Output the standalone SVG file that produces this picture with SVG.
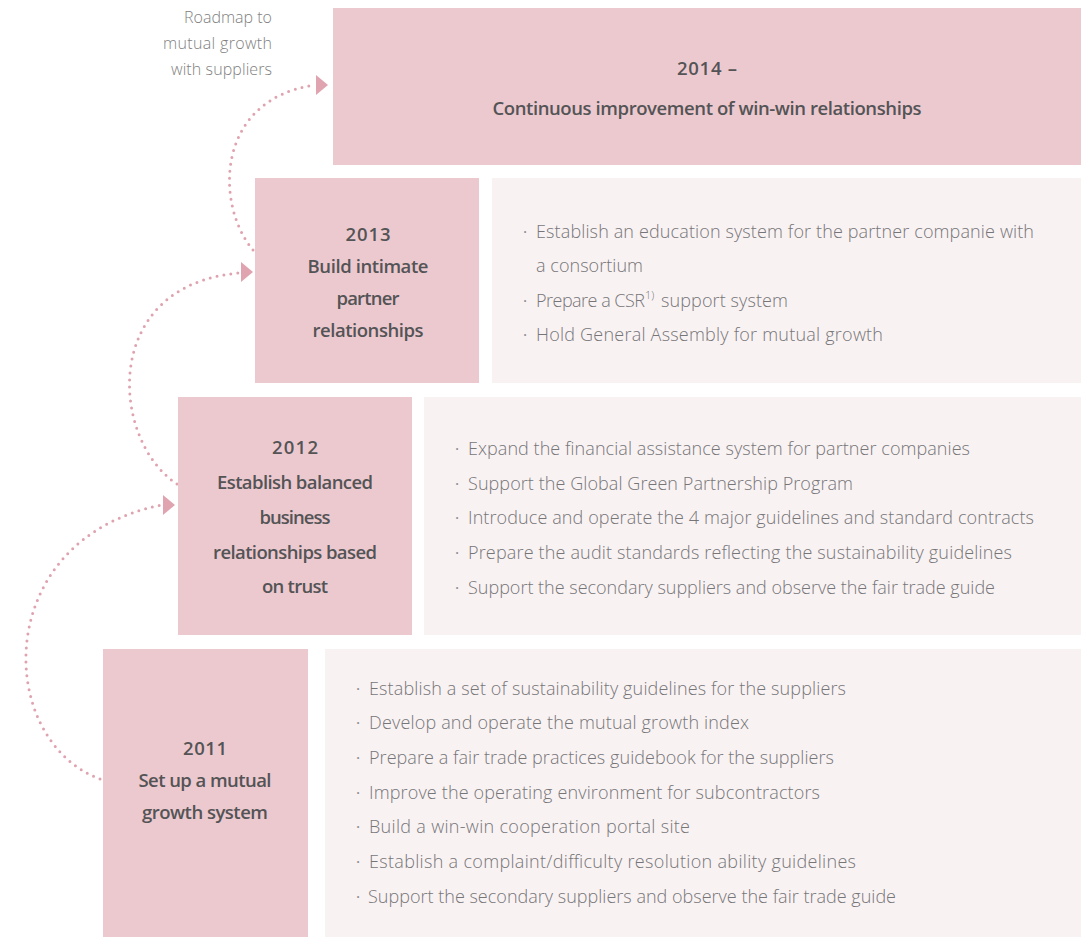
<svg xmlns="http://www.w3.org/2000/svg" width="1090" height="937" viewBox="0 0 1090 937">
  <style>
    .head { fill: #ecc9cf; }
    .body { fill: #f9f2f3; }
    .title { font-family: "Open Sans", "Liberation Sans", sans-serif; font-size: 18.5px; font-weight: 600; fill: #545456; text-anchor: middle; }
    .item { font-family: "Open Sans", "Liberation Sans", sans-serif; font-size: 18px; font-weight: 300; fill: #767678; }
    .dot { font-family: "Open Sans", "Liberation Sans", sans-serif; font-size: 16px; fill: #8a8a8c; }
    .note { font-family: "Open Sans", "Liberation Sans", sans-serif; font-size: 16px; font-weight: 300; fill: #7f7f81; text-anchor: end; }
    .sup { font-family: "Open Sans", "Liberation Sans", sans-serif; font-size: 11px; font-weight: 300; fill: #767678; }
    .trail { fill: none; stroke: #dfa3af; stroke-width: 3; stroke-linecap: round; stroke-dasharray: 0 7; }
    .tip { fill: #e0a4b0; }
  </style>
  <defs>
    <polygon id="arrowhead" points="0,0 -12,-10 -12,10"/>
  </defs>

  <!-- caption -->
  <g id="caption">
    <text class="note" x="272" y="23" textLength="88">Roadmap to</text>
    <text class="note" x="272" y="49" textLength="109">mutual growth</text>
    <text class="note" x="272" y="75" textLength="101">with suppliers</text>
  </g>

  <!-- connectors between stages -->
  <g id="connectors">
    <path class="trail" d="M253,250 C215,205 215,100 314,85"/>
    <use href="#arrowhead" class="tip" transform="translate(328,85)"/>
    <path class="trail" d="M177,484 C110,440 100,285 239,273"/>
    <use href="#arrowhead" class="tip" transform="translate(253,272)"/>
    <path class="trail" d="M100,779 C-5,740 -10,540 161,505"/>
    <use href="#arrowhead" class="tip" transform="translate(175,505)"/>
  </g>

  <!-- 2014 -->
  <g id="stage-2014">
    <rect class="head" x="333" y="8" width="748" height="157"/>
    <text class="title" x="707" y="75" textLength="60">2014 –</text>
    <text class="title" x="707" y="115" textLength="429">Continuous improvement of win-win relationships</text>
  </g>

  <!-- 2013 -->
  <g id="stage-2013">
    <rect class="head" x="255" y="178" width="224" height="205"/>
    <text class="title" x="368" y="241" textLength="45">2013</text>
    <text class="title" x="368" y="273" textLength="121">Build intimate</text>
    <text class="title" x="368" y="305" textLength="63">partner</text>
    <text class="title" x="368" y="337" textLength="111">relationships</text>
  </g>
  <g id="detail-2013">
    <rect class="body" x="492" y="178" width="589" height="205"/>
    <text class="dot" x="523" y="238">·</text>
    <text class="item" x="536" y="238" textLength="498">Establish an education system for the partner companie with</text>
    <text class="item" x="536" y="272" textLength="107">a consortium</text>
    <text class="dot" x="523" y="307">·</text>
    <text class="item" x="536" y="307" textLength="109">Prepare a CSR</text>
    <text class="sup" x="645" y="299">1)</text>
    <text class="item" x="661" y="307" textLength="127">support system</text>
    <text class="dot" x="523" y="341">·</text>
    <text class="item" x="536" y="341" textLength="347">Hold General Assembly for mutual growth</text>
  </g>

  <!-- 2012 -->
  <g id="stage-2012">
    <rect class="head" x="178" y="397" width="234" height="238"/>
    <text class="title" x="295" y="454" textLength="46">2012</text>
    <text class="title" x="295" y="489" textLength="156">Establish balanced</text>
    <text class="title" x="295" y="524" textLength="71">business</text>
    <text class="title" x="295" y="559" textLength="164">relationships based</text>
    <text class="title" x="295" y="593" textLength="66">on trust</text>
  </g>
  <g id="detail-2012">
    <rect class="body" x="424" y="397" width="657" height="238"/>
    <text class="dot" x="455" y="455">·</text>
    <text class="item" x="468" y="455" textLength="502">Expand the financial assistance system for partner companies</text>
    <text class="dot" x="455" y="490">·</text>
    <text class="item" x="468" y="490" textLength="385">Support the Global Green Partnership Program</text>
    <text class="dot" x="455" y="524">·</text>
    <text class="item" x="468" y="524" textLength="566">Introduce and operate the 4 major guidelines and standard contracts</text>
    <text class="dot" x="455" y="559">·</text>
    <text class="item" x="468" y="559" textLength="544">Prepare the audit standards reflecting the sustainability guidelines</text>
    <text class="dot" x="455" y="594">·</text>
    <text class="item" x="468" y="594" textLength="527">Support the secondary suppliers and observe the fair trade guide</text>
  </g>

  <!-- 2011 -->
  <g id="stage-2011">
    <rect class="head" x="103" y="649" width="205" height="288"/>
    <text class="title" x="205" y="755" textLength="44">2011</text>
    <text class="title" x="205" y="787" textLength="133">Set up a mutual</text>
    <text class="title" x="205" y="819" textLength="126">growth system</text>
  </g>
  <g id="detail-2011">
    <rect class="body" x="325" y="649" width="756" height="288"/>
    <text class="dot" x="356" y="695">·</text>
    <text class="item" x="369" y="695" textLength="477">Establish a set of sustainability guidelines for the suppliers</text>
    <text class="dot" x="356" y="729">·</text>
    <text class="item" x="369" y="729" textLength="380">Develop and operate the mutual growth index</text>
    <text class="dot" x="356" y="764">·</text>
    <text class="item" x="369" y="764" textLength="465">Prepare a fair trade practices guidebook for the suppliers</text>
    <text class="dot" x="356" y="799">·</text>
    <text class="item" x="369" y="799" textLength="451">Improve the operating environment for subcontractors</text>
    <text class="dot" x="356" y="833">·</text>
    <text class="item" x="369" y="833" textLength="321">Build a win-win cooperation portal site</text>
    <text class="dot" x="356" y="868">·</text>
    <text class="item" x="369" y="868" textLength="487">Establish a complaint/difficulty resolution ability guidelines</text>
    <text class="dot" x="356" y="903">·</text>
    <text class="item" x="368" y="903" textLength="528">Support the secondary suppliers and observe the fair trade guide</text>
  </g>
</svg>
